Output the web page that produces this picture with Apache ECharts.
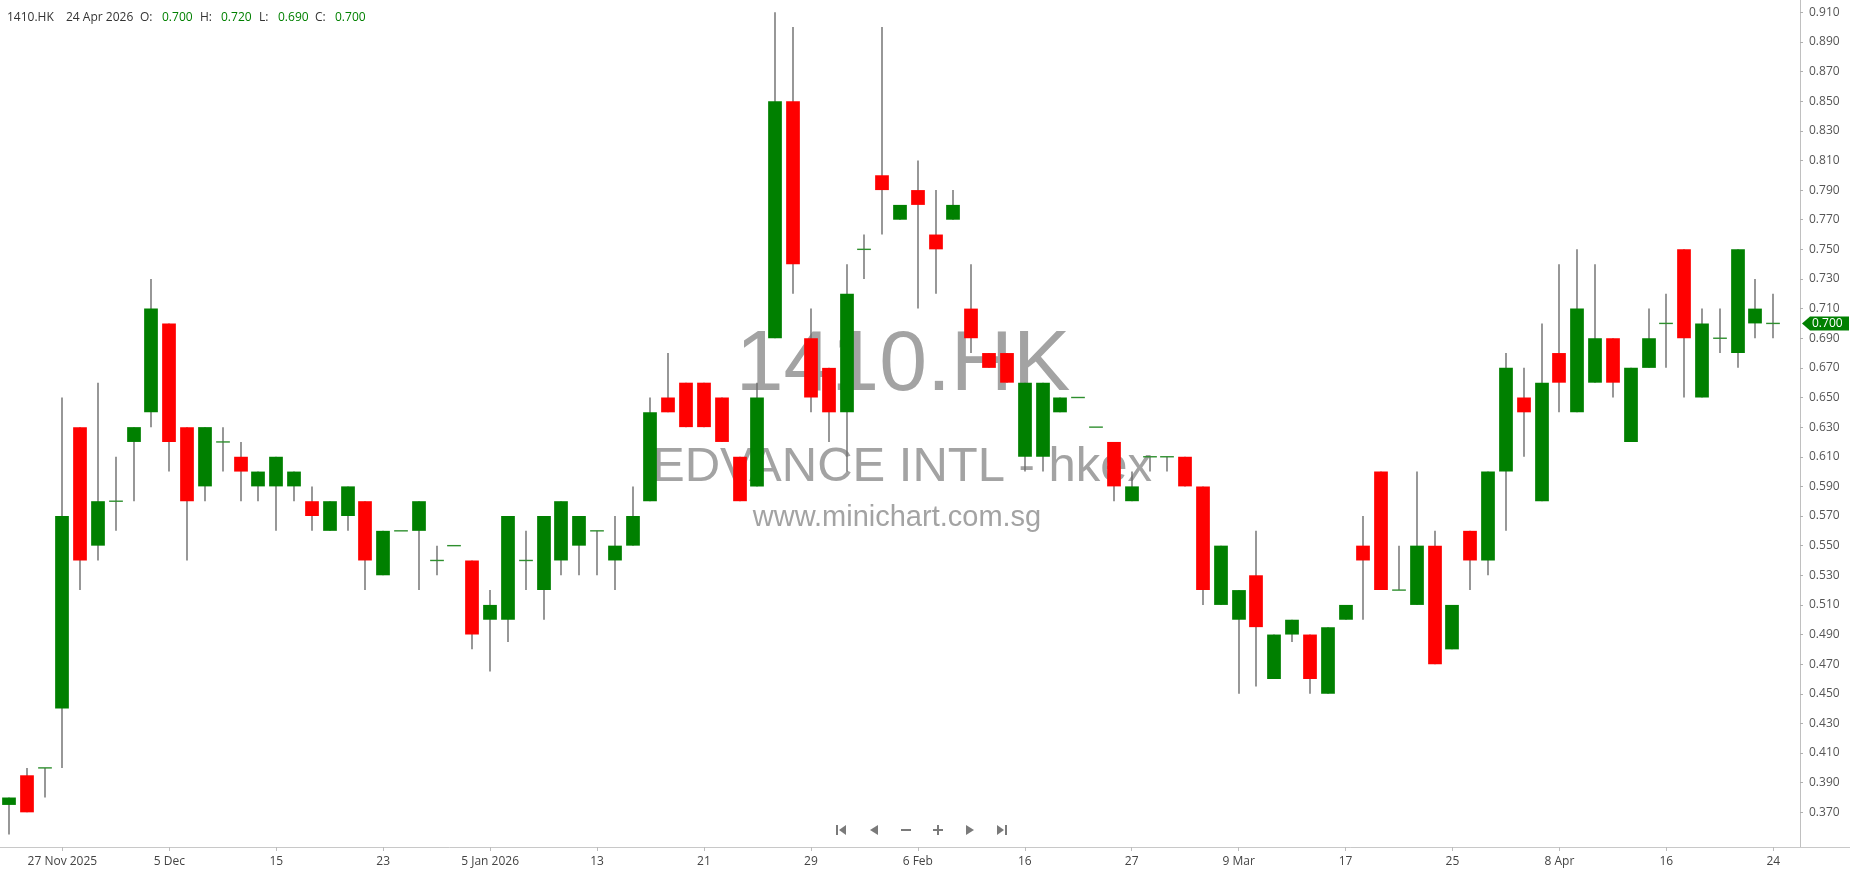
<!DOCTYPE html>
<html>
<head>
<meta charset="utf-8">
<script src="https://cdn.jsdelivr.net/npm/echarts@6/dist/echarts.min.js"></script>
<style>
html,body{margin:0;padding:0;background:#ffffff;}
#chart{width:1850px;height:874px;}
</style>
</head>
<body>
<div id="chart"></div>
<script>
// ---------------- data ----------------
const symbol = '1410.HK';
const company = 'EDVANCE INTL - hkex';
const site = 'www.minichart.com.sg';
const lastDateText = '24 Apr 2026';

const dates = [
'2025-11-24','2025-11-25','2025-11-26','2025-11-27','2025-11-28','2025-12-01','2025-12-02','2025-12-03','2025-12-04','2025-12-05',
'2025-12-08','2025-12-09','2025-12-10','2025-12-11','2025-12-12','2025-12-15','2025-12-16','2025-12-17','2025-12-18','2025-12-19',
'2025-12-22','2025-12-23','2025-12-24','2025-12-29','2025-12-30','2025-12-31','2026-01-02','2026-01-05','2026-01-06','2026-01-07',
'2026-01-08','2026-01-09','2026-01-12','2026-01-13','2026-01-14','2026-01-15','2026-01-16','2026-01-19','2026-01-20','2026-01-21',
'2026-01-22','2026-01-23','2026-01-26','2026-01-27','2026-01-28','2026-01-29','2026-01-30','2026-02-02','2026-02-03','2026-02-04',
'2026-02-05','2026-02-06','2026-02-09','2026-02-10','2026-02-11','2026-02-12','2026-02-13','2026-02-16','2026-02-20','2026-02-23',
'2026-02-24','2026-02-25','2026-02-26','2026-02-27','2026-03-02','2026-03-03','2026-03-04','2026-03-05','2026-03-06','2026-03-09',
'2026-03-10','2026-03-11','2026-03-12','2026-03-13','2026-03-16','2026-03-17','2026-03-18','2026-03-19','2026-03-20','2026-03-23',
'2026-03-24','2026-03-25','2026-03-26','2026-03-27','2026-03-30','2026-03-31','2026-04-02','2026-04-08','2026-04-09','2026-04-10',
'2026-04-13','2026-04-14','2026-04-15','2026-04-16','2026-04-17','2026-04-20','2026-04-21','2026-04-22','2026-04-23','2026-04-24'
];

const tickDates = ['2025-11-27','2025-12-05','2025-12-15','2025-12-23','2026-01-05','2026-01-13','2026-01-21','2026-01-29',
  '2026-02-06','2026-02-16','2026-02-27','2026-03-09','2026-03-17','2026-03-25','2026-04-08','2026-04-16','2026-04-24'];
const tickLabels = ['27 Nov 2025','5 Dec','15','23','5 Jan 2026','13','21','29','6 Feb','16','27','9 Mar','17','25','8 Apr','16','24'];

const openP = [
0.375,0.395,0.40,0.44,0.63,0.55,0.58,0.62,0.64,0.70,
0.63,0.59,0.62,0.61,0.59,0.59,0.59,0.58,0.56,0.57,
0.58,0.53,0.56,0.56,0.54,0.55,0.54,0.50,0.50,0.54,
0.52,0.54,0.55,0.56,0.54,0.55,0.58,0.65,0.66,0.66,
0.65,0.61,0.59,0.69,0.85,0.69,0.67,0.64,0.75,0.80,
0.77,0.79,0.76,0.77,0.71,0.68,0.68,0.61,0.61,0.64,
0.65,0.63,0.62,0.58,0.61,0.61,0.61,0.59,0.51,0.50,
0.53,0.46,0.49,0.49,0.45,0.50,0.55,0.60,0.52,0.51,
0.55,0.48,0.56,0.54,0.60,0.65,0.58,0.68,0.64,0.66,
0.69,0.62,0.67,0.70,0.75,0.65,0.69,0.68,0.70,0.70
];
const closeP = [
0.38,0.37,0.40,0.57,0.54,0.58,0.58,0.63,0.71,0.62,
0.58,0.63,0.62,0.60,0.60,0.61,0.60,0.57,0.58,0.59,
0.54,0.56,0.56,0.58,0.54,0.55,0.49,0.51,0.57,0.54,
0.57,0.58,0.57,0.56,0.55,0.57,0.64,0.64,0.63,0.63,
0.62,0.58,0.65,0.85,0.74,0.65,0.64,0.72,0.75,0.79,
0.78,0.78,0.75,0.78,0.69,0.67,0.66,0.66,0.66,0.65,
0.65,0.63,0.59,0.59,0.61,0.61,0.59,0.52,0.55,0.52,
0.495,0.49,0.50,0.46,0.495,0.51,0.54,0.52,0.52,0.55,
0.47,0.51,0.54,0.60,0.67,0.64,0.66,0.66,0.71,0.69,
0.66,0.67,0.69,0.70,0.69,0.70,0.69,0.75,0.71,0.70
];
const lowP = [
0.355,0.37,0.38,0.40,0.52,0.54,0.56,0.58,0.63,0.60,
0.54,0.58,0.60,0.58,0.58,0.56,0.58,0.56,0.56,0.56,
0.52,0.53,0.56,0.52,0.53,0.55,0.48,0.465,0.485,0.52,
0.50,0.53,0.53,0.53,0.52,0.55,0.58,0.64,0.63,0.63,
0.62,0.58,0.59,0.69,0.72,0.64,0.62,0.60,0.73,0.76,
0.77,0.71,0.72,0.77,0.68,0.67,0.66,0.60,0.60,0.64,
0.65,0.63,0.58,0.58,0.60,0.60,0.59,0.51,0.51,0.45,
0.455,0.46,0.485,0.45,0.45,0.50,0.50,0.52,0.52,0.51,
0.47,0.48,0.52,0.53,0.56,0.61,0.58,0.64,0.64,0.66,
0.65,0.62,0.67,0.67,0.65,0.65,0.68,0.67,0.69,0.69
];
const highP = [
0.38,0.40,0.40,0.65,0.63,0.66,0.61,0.63,0.73,0.70,
0.63,0.63,0.63,0.62,0.60,0.61,0.60,0.59,0.58,0.59,
0.58,0.56,0.56,0.58,0.55,0.55,0.54,0.52,0.57,0.56,
0.57,0.58,0.57,0.56,0.57,0.59,0.65,0.68,0.66,0.66,
0.65,0.61,0.66,0.91,0.90,0.71,0.67,0.74,0.76,0.90,
0.78,0.81,0.79,0.79,0.74,0.68,0.68,0.66,0.66,0.65,
0.65,0.63,0.62,0.60,0.61,0.61,0.61,0.59,0.55,0.52,
0.56,0.49,0.50,0.49,0.495,0.51,0.57,0.60,0.55,0.60,
0.56,0.51,0.56,0.60,0.68,0.67,0.70,0.74,0.75,0.74,
0.69,0.67,0.71,0.72,0.75,0.71,0.71,0.75,0.73,0.72
];

const yTicks = [0.37,0.39,0.41,0.43,0.45,0.47,0.49,0.51,0.53,0.55,0.57,0.59,0.61,0.63,0.65,
  0.67,0.69,0.71,0.73,0.75,0.77,0.79,0.81,0.83,0.85,0.87,0.89,0.91];

// ---------------- style ----------------
const GREEN = '#008000';
const RED = '#ff0000';
const WICK = '#6c6c6c';
const FONT = 'Open Sans';
const W = 1850, H = 874;
const GRID_RIGHT = 50, GRID_BOTTOM = 27;
const AXIS_X = W - GRID_RIGHT, AXIS_Y = H - GRID_BOTTOM;

const chart = echarts.init(document.getElementById('chart'), null, {renderer: 'canvas'});

const candleData = dates.map((d, i) => [i, openP[i], closeP[i], lowP[i], highP[i]]);
const xCats = dates.concat(['']);
const isTick = (idx, val) => tickDates.indexOf(val) >= 0;

const last = dates.length - 1;
const f3 = v => v.toFixed(3);

function tri(points) { return {type:'polygon', shape:{points: points}, style:{fill:'#7a7a7a'}, z: 5}; }

const option = {
  animation: false,
  backgroundColor: '#ffffff',
  textStyle: {fontFamily: FONT},
  grid: {left: 0, right: GRID_RIGHT, top: 0, bottom: GRID_BOTTOM, containLabel: false},
  xAxis: {
    type: 'category',
    data: xCats,
    boundaryGap: true,
    axisLine: {show: true, lineStyle: {color: '#c8c8c8', width: 1}},
    axisTick: {show: true, alignWithLabel: true, interval: isTick, length: 4, lineStyle: {color: '#bdbdbd'}},
    axisLabel: {interval: isTick, formatter: v => { const k = tickDates.indexOf(v); return k >= 0 ? tickLabels[k] : ''; },
      color: '#444444', fontSize: 12, margin: 9, fontFamily: FONT},
    splitLine: {show: false}
  },
  yAxis: {
    type: 'value',
    position: 'right',
    min: 0.3466,
    max: 0.9183,
    axisLine: {show: true, lineStyle: {color: '#c0c0c0', width: 1}},
    axisTick: {show: true, length: 3, inside: false, customValues: yTicks, lineStyle: {color: '#b0b0b0'}},
    axisLabel: {customValues: yTicks, formatter: v => v.toFixed(3), color: '#555555', fontSize: 12, margin: 9, fontFamily: FONT},
    splitLine: {show: false}
  },
  series: [{
    type: 'custom',
    name: symbol,
    data: candleData,
    encode: {x: 0, y: [1, 2, 3, 4]},
    z: 3,
    renderItem: function (params, api) {
      const i = api.value(0), o = api.value(1), c = api.value(2), l = api.value(3), h = api.value(4);
      const pO = api.coord([i, o]), pC = api.coord([i, c]), pL = api.coord([i, l]), pH = api.coord([i, h]);
      const w = api.size([1, 0])[0] * 0.77;
      const x = Math.round(pO[0]);
      const col = c < o ? RED : GREEN;
      const children = [];
      if (h > l) {
        children.push({type: 'line', shape: {x1: x, y1: pH[1], x2: x, y2: pL[1]}, style: {stroke: WICK, lineWidth: 1.4}});
      }
      const top = Math.min(pO[1], pC[1]);
      const bh = Math.abs(pO[1] - pC[1]);
      if (bh < 1) {
        children.push({type: 'line', shape: {x1: x - w / 2, y1: pO[1], x2: x + w / 2, y2: pO[1]}, style: {stroke: '#2e8f2e', lineWidth: 1.4}});
      } else {
        children.push({type: 'rect', shape: {x: x - w / 2, y: top, width: w, height: bh}, style: {fill: col}});
      }
      return {type: 'group', children: children};
    }
  }],
  graphic: [
    // watermark
    {type: 'text', z: 0, silent: true, style: {text: symbol, x: 903, y: 366, align: 'center', verticalAlign: 'middle',
      fontSize: 86, fontFamily: 'Liberation Sans', fill: '#a3a3a3'}},
    {type: 'text', z: 0, silent: true, style: {text: company, x: 902, y: 467, align: 'center', verticalAlign: 'middle',
      fontSize: 49, fontFamily: 'Liberation Sans', fill: '#a3a3a3'}},
    {type: 'text', z: 0, silent: true, style: {text: site, x: 897, y: 518, align: 'center', verticalAlign: 'middle',
      fontSize: 29, fontFamily: 'Liberation Sans', fill: '#a3a3a3'}},
    // header
    {type: 'text', z: 10, style: {text: symbol, x: 7, y: 18, verticalAlign: 'middle', fontSize: 12, fontFamily: FONT, fill: '#333333'}},
    {type: 'text', z: 10, style: {text: lastDateText, x: 66, y: 18, verticalAlign: 'middle', fontSize: 12, fontFamily: FONT, fill: '#333333'}},
    {type: 'text', z: 10, style: {text: 'O:', x: 140, y: 18, verticalAlign: 'middle', fontSize: 12, fontFamily: FONT, fill: '#333333'}},
    {type: 'text', z: 10, style: {text: f3(openP[last]), x: 162, y: 18, verticalAlign: 'middle', fontSize: 12, fontFamily: FONT, fill: GREEN}},
    {type: 'text', z: 10, style: {text: 'H:', x: 200, y: 18, verticalAlign: 'middle', fontSize: 12, fontFamily: FONT, fill: '#333333'}},
    {type: 'text', z: 10, style: {text: f3(highP[last]), x: 221, y: 18, verticalAlign: 'middle', fontSize: 12, fontFamily: FONT, fill: GREEN}},
    {type: 'text', z: 10, style: {text: 'L:', x: 259, y: 18, verticalAlign: 'middle', fontSize: 12, fontFamily: FONT, fill: '#333333'}},
    {type: 'text', z: 10, style: {text: f3(lowP[last]), x: 278, y: 18, verticalAlign: 'middle', fontSize: 12, fontFamily: FONT, fill: GREEN}},
    {type: 'text', z: 10, style: {text: 'C:', x: 315, y: 18, verticalAlign: 'middle', fontSize: 12, fontFamily: FONT, fill: '#333333'}},
    {type: 'text', z: 10, style: {text: f3(closeP[last]), x: 335, y: 18, verticalAlign: 'middle', fontSize: 12, fontFamily: FONT, fill: GREEN}},
    // x axis line continuation beyond the price axis
    {type: 'line', z: 5, shape: {x1: AXIS_X, y1: AXIS_Y + 0.5, x2: W, y2: AXIS_Y + 0.5}, style: {stroke: '#c8c8c8', lineWidth: 1}},
    // navigation controls
    {type: 'rect', z: 5, shape: {x: 836, y: 825, width: 2, height: 10}, style: {fill: '#7a7a7a'}},
    tri([[846, 825], [846, 835], [839, 830]]),
    tri([[878, 825], [878, 835], [870, 830]]),
    {type: 'rect', z: 5, shape: {x: 901, y: 829, width: 10, height: 2}, style: {fill: '#7a7a7a'}},
    {type: 'rect', z: 5, shape: {x: 933, y: 829, width: 10, height: 2}, style: {fill: '#7a7a7a'}},
    {type: 'rect', z: 5, shape: {x: 937, y: 825, width: 2, height: 10}, style: {fill: '#7a7a7a'}},
    tri([[966, 825], [966, 835], [974, 830]]),
    tri([[997, 825], [997, 835], [1004, 830]]),
    {type: 'rect', z: 5, shape: {x: 1005, y: 825, width: 2, height: 10}, style: {fill: '#7a7a7a'}}
  ]
};

chart.setOption(option);

// last price tag, placed through the y axis scale
const py = chart.convertToPixel({yAxisIndex: 0}, closeP[last]);
chart.setOption({
  graphic: option.graphic.concat([
    {type: 'polygon', z: 20, shape: {points: [[AXIS_X + 2, py], [AXIS_X + 10, py - 7], [W - 1, py - 7], [W - 1, py + 7], [AXIS_X + 10, py + 7]]},
      style: {fill: GREEN}},
    {type: 'text', z: 21, style: {text: f3(closeP[last]), x: AXIS_X + 12, y: py, verticalAlign: 'middle', fontSize: 12, fontFamily: FONT, fill: '#ffffff'}}
  ])
}, {replaceMerge: ['graphic']});
</script>
</body>
</html>
